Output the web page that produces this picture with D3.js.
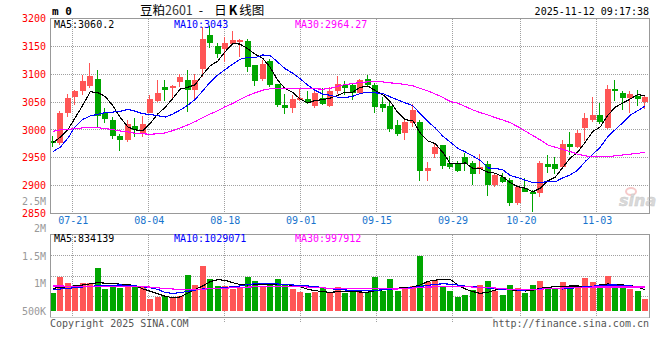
<!DOCTYPE html>
<html><head><meta charset="utf-8">
<script src="https://cdn.jsdelivr.net/npm/d3@7"></script>
<style>body{margin:0;background:#fff}svg{display:block}</style>
</head><body>
<svg id="c" width="660" height="360"></svg>
<script>
const dates = ["07-16","07-17","07-18","07-21","07-22","07-23","07-24","07-25","07-28","07-29","07-30","07-31","08-01","08-04","08-05","08-06","08-07","08-08","08-11","08-12","08-13","08-14","08-15","08-18","08-19","08-20","08-21","08-22","08-25","08-26","08-27","08-28","08-29","09-01","09-02","09-03","09-04","09-05","09-08","09-09","09-10","09-11","09-12","09-15","09-16","09-17","09-18","09-19","09-22","09-23","09-24","09-25","09-26","09-29","09-30","10-09","10-10","10-13","10-14","10-15","10-16","10-17","10-20","10-21","10-22","10-23","10-24","10-27","10-28","10-29","10-30","10-31","11-03","11-04","11-05","11-06","11-07","11-10","11-11","11-12"];
const open = [2981,2977,3031,3060,3070,3079,3091,3031,3018,2989, 2982,3007,2995,3031,3052,3077,3076,3086,3090,3071, 3110,3171,3150,3145,3154,3158,3159,3116,3092,3123, 3082,3045,3040,3054,3055,3043,3058,3043,3070,3080, 3080,3067,3091,3080,3046,3043,3009,2995,3013,3015, 2926,2957,2973,2941,2939,2951,2941,2929,2938,2902, 2915,2911,2868,2896,2889,2887,2939,2938,2933,2975, 2969,3004,3018,3027,3003,3073,3067,3058,3061,3050];
const high = [2989,3034,3064,3072,3099,3121,3107,3039,3023,2993, 3017,3021,3025,3062,3089,3089,3080,3101,3107,3101, 3184,3187,3156,3167,3178,3164,3164,3116,3125,3128, 3082,3064,3063,3073,3070,3071,3076,3077,3096,3088, 3083,3091,3098,3085,3060,3054,3017,3021,3046,3017, 2942,2977,2973,2954,2944,2958,2944,2957,2945,2921, 2923,2914,2899,2914,2893,2945,2955,2951,2982,2997, 3000,3030,3060,3049,3080,3089,3069,3070,3071,3061];
const low = [2969,2973,3023,3044,3062,3076,3004,3013,2984,2963, 2978,2987,2988,3030,3050,3052,3055,3077,3033,3052, 3095,3147,3130,3122,3153,3131,3104,3079,3088,3077, 3042,3028,3031,3052,3046,3039,3044,3042,3064,3063, 3054,3066,3079,3031,3033,2997,2989,2982,3006,2908, 2908,2950,2930,2929,2924,2926,2902,2921,2882,2897, 2905,2863,2865,2888,2852,2879,2923,2921,2930,2955, 2967,2981,3015,3011,3002,3052,3035,3031,3043,3038];
const close = [2976,3031,3057,3070,3088,3096,3025,3020,2989,2982, 3011,2999,3011,3055,3067,3072,3078,3095,3071,3090, 3164,3156,3136,3156,3162,3161,3113,3088,3119,3080, 3045,3039,3055,3057,3048,3067,3046,3069,3082,3076, 3067,3089,3080,3042,3040,3002,2993,3014,3036,2927, 2931,2970,2936,2933,2927,2938,2921,2933,2902,2919, 2906,2868,2897,2888,2885,2941,2933,2930,2975,2969, 2995,3021,3027,3015,3073,3069,3058,3064,3055,3060];
const ma5 = [2977,2987,3000,3022,3044.4,3068.4,3067.2,3059.8,3043.6,3022.4, 3005.4,3000.2,2998.4,3011.6,3028.6,3040.8,3056.6,3073.3,3076.5,3081.2, 3099.6,3115.2,3123.5,3140.5,3154.8,3154.1,3145.5,3135.9,3128.5,3112.1, 3088.9,3074.1,3067.5,3055,3048.5,3052.9,3054.4,3057.1,3062.2,3067.8, 3067.8,3076.4,3078.7,3070.6,3063.5,3050.6,3031.4,3018.2,3017,2994.4, 2980.2,2975.5,2959.9,2939.5,2939.5,2940.8,2931.1,2930.5,2924.2,2922.4, 2916.1,2905.4,2898.2,2895.5,2888.7,2895.6,2908.5,2915.2,2932.6,2949.5, 2960.4,2978,2997.3,3005.3,3026.1,3040.8,3048.2,3055.6,3063.6,3060.9];
const ma10 = [2961,2969,2985,3006,3019,3025,3028,3031,3032,3033.4, 3036.9,3033.7,3029.1,3027.6,3025.5,3023.1,3028.4,3035.9,3044.1,3054.9, 3070.2,3085.9,3098.4,3108.5,3118,3126.9,3130.4,3129.7,3134.5,3133.5, 3121.5,3109.8,3101.7,3091.8,3080.3,3070.9,3064.3,3062.3,3058.6,3058.2, 3060.4,3065.4,3067.9,3066.4,3065.7,3059.2,3053.9,3048.4,3043.8,3029, 3015.4,3003.5,2989,2978.2,2967,2960.5,2953.3,2945.2,2931.8,2930.9, 2928.4,2918.3,2914.4,2909.8,2905.5,2905.8,2907,2906.7,2914.1,2919.1, 2928,2943.3,2956.3,2969,2987.8,3000.6,3013.1,3026.5,3034.5,3043.5];
const ma30 = [2997.6,3000,3001,3002.4,3003.6,3004,3004,3002.4,3000.6,2998.2, 2996.4,2994,2993,2992.3,2993,2994.6,2998.8,3003.6,3009,3015, 3022,3028.6,3034.5,3041.7,3047.6,3054.8,3061.3,3066.7,3071.4,3073.8, 3074.4,3074.4,3074.4,3074.4,3074.4,3073.8,3073.2,3074.4,3078.6,3081.5, 3083.3,3085.1,3086.3,3086.9,3086.3,3084.5,3083.3,3081.5,3079.2,3074.4, 3070,3064.5,3058.5,3051,3048,3042,3036,3031,3027,3022, 3018,3013,3006,2998,2990,2982,2973,2969,2965,2961, 2956.5,2953.5,2952,2951.5,2952,2953.5,2955,2956.5,2958,2960];
const volume = [833000,1124000,1015000,924000,1015000,1004000,1287000,900000,942000,924000, 955000,960000,942000,718000,760000,778000,742000,778000,1155000,973000, 1318000,1082000,960000,960000,900000,942000,1124000,1045000,942000,1004000, 1082000,973000,900000,851000,833000,851000,913000,840000,942000,822000, 840000,840000,840000,1124000,864000,1082000,864000,942000,955000,1505000, 1033000,1064000,960000,864000,760000,791000,882000,973000,1045000,864000, 791000,973000,924000,833000,973000,1045000,913000,913000,1033000,955000, 924000,1105000,1033000,913000,1142000,955000,913000,900000,864000,718000];
const volMa5 = [912000,930000,942000,958000,973000,994000,1015000,1006000,997000,988000, 979000,961000,903000,858000,815000,767000,742000,755000,827000,894000, 955000,1033000,1070000,1058000,1015000,979000,973000,982000,991000,991000, 985000,979000,967000,942000,894000,870000,852000,839000,852000,861000, 855000,845000,842000,870000,885000,900000,915000,927000,936000,973000, 1039000,1061000,1079000,1076000,973000,900000,852000,821000,839000,882000, 894000,885000,873000,864000,879000,912000,930000,942000,948000,955000, 955000,948000,946000,979000,991000,985000,973000,961000,942000,882000];
const volMa10 = [885000,900000,912000,924000,936000,949000,958000,964000,970000,973000, 967000,958000,942000,921000,894000,836000,821000,833000,858000,882000, 900000,906000,912000,930000,942000,955000,982000,997000,1003000,1000000, 991000,982000,973000,964000,955000,945000,924000,906000,891000,882000, 876000,867000,870000,876000,885000,894000,900000,912000,924000,948000, 964000,985000,994000,988000,973000,952000,942000,930000,918000,903000, 897000,891000,882000,882000,888000,900000,909000,906000,900000,912000, 927000,942000,952000,964000,973000,973000,967000,955000,949000,939000];
const volMa30 = [955000,954000,953000,953000,952000,952000,950000,949000,948000,947000, 946000,943000,940000,935000,921000,906000,900000,894000,891000,894000, 897000,903000,909000,915000,922000,930000,935000,939000,942000,945000, 947000,949000,946000,941000,936000,930000,921000,912000,910000,909000, 907000,906000,905000,904000,902000,901000,900000,909000,918000,927000, 936000,938000,939000,940000,941000,942000,936000,930000,924000,918000, 906000,894000,891000,888000,892000,897000,904000,911000,918000,922000, 927000,932000,936000,936000,936000,936000,936000,936000,936000,936000];
const priceTicks = [3200,3150,3100,3050,3000,2950,2900,2850];
const volTicks = [500000,1000000,1500000,2000000,2500000];
const volTickLabels = ["500K","1M","1.5M","2M","2.5M"];
const dateTicks = ["07-21","08-04","08-18","09-01","09-15","09-29","10-20","11-03"];
const maLabels = ["MA5:3060.2","MA10:3043","MA30:2964.27"];
const volMaLabels = ["MA5:834139","MA10:1029071","MA30:997912"];
const maColors = ["#000000","#0000ff","#ff00ff"];

const UP = "#ff5555", DOWN = "#00a600", GRID = "#a0a0a0", BORDER = "#999999";
const MONO = "'DejaVu Sans Mono', monospace";
const svg = d3.select("#c");
svg.append("rect").attr("width",660).attr("height",360).attr("fill","#fff");

const xBand = d3.scaleBand().domain(dates).range([49,649]);
const xGrid = d3.scalePoint().domain(dates).range([50,650]);
const cx = d => xBand(d) + xBand.bandwidth()/2;
const y = d3.scaleLinear().domain([2850,3200]).range([213.5,18.5]);
const vy = d3.scaleLinear().domain([500000,2500000]).range([311,201]);
const px = v => Math.floor(v) + 0.5;

const data = dates.map((d,i)=>({d,i,o:open[i],h:high[i],l:low[i],c:close[i],v:volume[i]}));

const defs = svg.append("defs");
defs.append("clipPath").attr("id","cpMain").append("rect").attr("x",51).attr("y",19).attr("width",598).attr("height",194);
defs.append("clipPath").attr("id","cpVol").append("rect").attr("x",51).attr("y",235).attr("width",598).attr("height",82);

// grid
const g = svg.append("g").attr("shape-rendering","crispEdges");
g.selectAll(".hg").data(priceTicks.slice(1,-1)).join("line")
  .attr("x1",51).attr("x2",649).attr("y1",d=>px(y(d))).attr("y2",d=>px(y(d)))
  .attr("stroke",GRID).attr("stroke-dasharray","1,1");
g.selectAll(".vg").data(dateTicks).join("line")
  .attr("x1",d=>px(xGrid(d))).attr("x2",d=>px(xGrid(d))).attr("y1",19).attr("y2",213)
  .attr("stroke",GRID).attr("stroke-dasharray","1,1");
const vTop = 234.5, vBot = 317.5;
g.selectAll(".vhg").data([1,2,3]).join("line")
  .attr("x1",51).attr("x2",649)
  .attr("y1",k=>px(vTop + k*(vBot-vTop)/4)).attr("y2",k=>px(vTop + k*(vBot-vTop)/4))
  .attr("stroke",GRID).attr("stroke-dasharray","1,1");
g.selectAll(".vvg").data(dateTicks).join("line")
  .attr("x1",d=>px(xGrid(d))).attr("x2",d=>px(xGrid(d))).attr("y1",235).attr("y2",323)
  .attr("stroke",GRID).attr("stroke-dasharray","1,1");

// candles
const cg = svg.append("g").attr("clip-path","url(#cpMain)").attr("shape-rendering","crispEdges");
const bx = d => Math.round(cx(d.d) - 3);
cg.selectAll(".wick").data(data).join("line")
  .attr("x1",d=>bx(d)+2.5).attr("x2",d=>bx(d)+2.5)
  .attr("y1",d=>y(d.h)).attr("y2",d=>y(d.l))
  .attr("stroke",d=>d.c>=d.o?UP:DOWN).attr("stroke-width",1);
cg.selectAll(".body").data(data).join("rect")
  .attr("x",d=>bx(d)).attr("width",6)
  .attr("y",d=>y(Math.max(d.o,d.c)))
  .attr("height",d=>Math.max(1,Math.abs(y(d.o)-y(d.c))))
  .attr("fill",d=>d.c>=d.o?UP:DOWN);

// MA lines
const lineP = d3.line().x((v,i)=>cx(dates[i])).y(v=>y(v));
const lg = svg.append("g").attr("clip-path","url(#cpMain)");
[ma5,ma10,ma30].forEach((arr,k)=>{
  lg.append("path").attr("d",lineP(arr)).attr("fill","none").attr("stroke",maColors[k])
    .attr("stroke-width",1.1).attr("shape-rendering","crispEdges");
});

// volume
const vg = svg.append("g").attr("clip-path","url(#cpVol)");
vg.append("g").attr("shape-rendering","crispEdges").selectAll("rect").data(data).join("rect")
  .attr("x",d=>bx(d)).attr("width",6)
  .attr("y",d=>Math.round(vy(d.v))).attr("height",d=>Math.round(vy(500000))-Math.round(vy(d.v)))
  .attr("fill",d=>d.c>=d.o?UP:DOWN);
const lineV = d3.line().x((v,i)=>cx(dates[i])).y(v=>vy(v));
[volMa5,volMa10,volMa30].forEach((arr,k)=>{
  vg.append("path").attr("d",lineV(arr)).attr("fill","none").attr("stroke",maColors[k])
    .attr("stroke-width",1.1).attr("shape-rendering","crispEdges");
});

// borders
svg.append("rect").attr("x",50.5).attr("y",18.5).attr("width",599).attr("height",195)
  .attr("fill","none").attr("stroke",BORDER).attr("shape-rendering","crispEdges");
svg.append("rect").attr("x",50.5).attr("y",234.5).attr("width",599).attr("height",83)
  .attr("fill","none").attr("stroke",BORDER).attr("shape-rendering","crispEdges");

// axes
const ya = svg.append("g").attr("transform","translate(50,0)")
  .call(d3.axisLeft(y).tickValues(priceTicks).tickSize(0).tickPadding(4).tickFormat(d3.format("d")));
ya.select(".domain").remove();
ya.selectAll("text").attr("fill","#ff0000").style("font-family",MONO).style("font-size","10px");

const va = svg.append("g").attr("transform","translate(50,0)")
  .call(d3.axisLeft(vy).tickValues(volTicks).tickSize(0).tickPadding(4).tickFormat((d,i)=>volTickLabels[i]));
va.select(".domain").remove();
va.selectAll("text").attr("fill","#999999").style("font-family",MONO).style("font-size","10px");

const xa = svg.append("g").attr("transform","translate(0,214)")
  .call(d3.axisBottom(xGrid).tickValues(dateTicks).tickSize(0).tickPadding(3));
xa.select(".domain").remove();
xa.selectAll("text").attr("fill","#1874cd").style("font-family",MONO).style("font-size","10px");

// legends
const legX = [54,174,295];
maLabels.forEach((t,k)=>{
  svg.append("text").attr("x",legX[k]).attr("y",27.5).text(t)
    .attr("fill",maColors[k]).style("font-family",MONO).style("font-size","10px");
});
volMaLabels.forEach((t,k)=>{
  svg.append("text").attr("x",legX[k]).attr("y",241.8).text(t)
    .attr("fill",maColors[k]).style("font-family",MONO).style("font-size","10px");
});

// header
svg.append("text").attr("x",52).attr("y",15).text("m 0")
  .style("font-family",MONO).style("font-size","11px").style("font-weight","bold").attr("fill","#000");
const title = svg.append("text").attr("x",140).attr("y",15).attr("fill","#000")
  .style("font-family","'Noto Sans CJK SC', sans-serif").style("font-size","12.5px");
title.append("tspan").text("豆粕");
title.append("tspan").text("2601").attr("fill","#333");
title.append("tspan").attr("dx",6).text("-");
title.append("tspan").attr("dx",11).text("日");
title.append("tspan").attr("dx",2).text("K").style("font-weight","bold");
title.append("tspan").attr("dx",2).text("线图");
svg.append("text").attr("x",649).attr("y",15).attr("text-anchor","end").text("2025-11-12 09:17:38")
  .attr("fill","#000").style("font-family",MONO).style("font-size","10px");

// footer
function footer(x, anchor, t){
  const tx = svg.append("text").attr("x",x).attr("y",326.5).attr("text-anchor",anchor).text(t)
    .attr("fill","#555").style("font-family",MONO).style("font-size","10px");
  const bb = tx.node().getBBox();
  svg.insert("rect", () => tx.node()).attr("x",bb.x).attr("y",bb.y).attr("width",bb.width).attr("height",bb.height).attr("fill","#fff");
}
footer(50,"start","Copyright 2025 SINA.COM");
footer(649,"end","http://finance.sina.com.cn");

// watermark
const wm = svg.append("g").attr("opacity",0.55);
wm.append("ellipse").attr("cx",631).attr("cy",191.5).attr("rx",5).attr("ry",3.5)
  .attr("fill","none").attr("stroke","#f0a0a0").attr("stroke-width",2);
wm.append("text").attr("x",619).attr("y",206).text("sina")
  .attr("fill","#bbbbbb").attr("stroke","#999").attr("stroke-width",0.4)
  .style("font-family","'DejaVu Sans', sans-serif").style("font-size","16px")
  .style("font-style","italic").style("font-weight","bold");
</script>
</body></html>
